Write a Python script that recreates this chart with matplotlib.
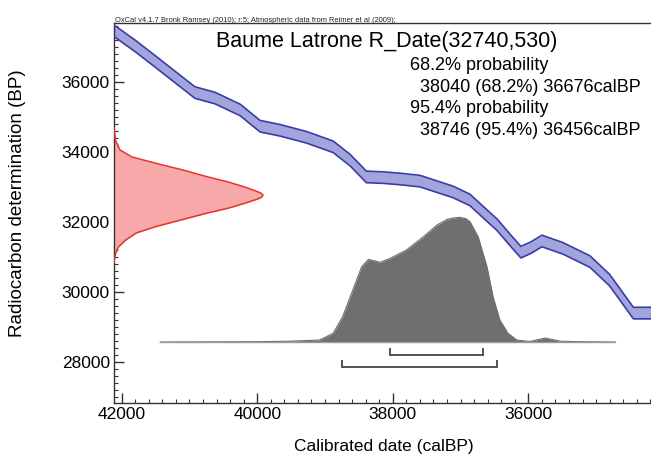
import numpy as np
import matplotlib
matplotlib.use("Agg")
import matplotlib.pyplot as plt
from matplotlib.ticker import MultipleLocator

plt.rcParams['font.family'] = ['Liberation Sans', 'DejaVu Sans']

# ---------------- data ----------------
# Calibration curve (IntCal09): cal BP vs 14C BP (centre of band)
curve_cal = [42110, 41800, 41500, 41210, 40920, 40620, 40250, 39960, 39660, 39270,
             38880, 38630, 38390, 38140, 37890, 37600, 37110, 36860, 36670, 36460,
             36270, 36110, 35960, 35800, 35490, 35090, 34800, 34450, 34160]
curve_bp = [37450, 37020, 36570, 36130, 35690, 35530, 35190, 34730, 34610, 34410,
            34140, 33760, 33280, 33260, 33220, 33160, 32850, 32620, 32280, 31910,
            31480, 31130, 31260, 31450, 31240, 30860, 30330, 29390, 29390]
curve_err = 165  # half-width of band (BP)

meas_bp = [34680, 34330, 34050, 33850, 33670, 33480, 33290, 33130, 33000, 32880,
           32820, 32760, 32700, 32650, 32530, 32390, 32240, 32050, 31860, 31680,
           31480, 31280, 31110, 30850]
meas_rel = [0.0, 0.01, 0.04, 0.12, 0.28, 0.46, 0.62, 0.77, 0.87, 0.95,
            0.985, 1.0, 0.99, 0.965, 0.88, 0.77, 0.62, 0.45, 0.28, 0.15,
            0.08, 0.03, 0.012, 0.0]

# Calibrated posterior distribution
post_cal = [41430, 40000, 39520, 39080, 38880, 38740, 38590, 38460, 38360, 38260,
            38190, 38040, 37800, 37550, 37350, 37200, 37100, 37010, 36920, 36860,
            36740, 36610, 36520, 36420, 36300, 36170, 35980, 35750, 35530, 35240,
            34720]
post_rel = [0.0, 0.0024, 0.0064, 0.016, 0.07, 0.203, 0.417, 0.604, 0.663, 0.65,
            0.639, 0.671, 0.738, 0.844, 0.938, 0.984, 0.996, 1.0, 0.99, 0.965,
            0.844, 0.604, 0.363, 0.176, 0.07, 0.016, 0.004, 0.032, 0.006, 0.0024,
            0.0]

# Highest probability density ranges
range68 = (38040, 36676)
range95 = (38746, 36456)

title = "Baume Latrone R_Date(32740,530)"
header = "OxCal v4.1.7 Bronk Ramsey (2010); r:5; Atmospheric data from Reimer et al (2009);"
info_lines = ["68.2% probability", "38040 (68.2%) 36676calBP",
              "95.4% probability", "38746 (95.4%) 36456calBP"]

# ---------------- layout ----------------
W, H = 651, 459
fig = plt.figure(figsize=(W / 100, H / 100), dpi=100)
ax = fig.add_axes([114 / W, 1 - 403 / H, (653 - 114) / W, (403 - 23) / H])
ax.set_xlim(42114, 34160)
ax.set_ylim(26820, 37677)

# calibration band
cc = np.array(curve_cal)
cb = np.array(curve_bp)
ax.fill_between(cc, cb - curve_err, cb + curve_err, color='#a2a4dc', lw=0, zorder=2)
ax.plot(cc, cb - curve_err, color='#3b3caa', lw=1.2, zorder=3, solid_joinstyle='round')
ax.plot(cc, cb + curve_err, color='#3b3caa', lw=1.2, zorder=3, solid_joinstyle='round')

# measurement distribution on the y-axis
x0 = 42114
meas_height = 2200  # cal-years at peak
mx = x0 - np.array(meas_rel) * meas_height
ax.fill_betweenx(meas_bp, x0, mx, color='#f6a9a8', lw=0, zorder=2)
ax.plot(mx, meas_bp, color='#e8332a', lw=1.1, zorder=3)

# posterior distribution
base_bp = 28563
post_height = 3560
py = base_bp + np.array(post_rel) * post_height
ax.fill_between(post_cal, base_bp, py, color='#6e7070', lw=0, zorder=4)
ax.plot(post_cal, py, color='#6e7070', lw=0.8, zorder=4)
ax.plot([post_cal[0], post_cal[-1]], [base_bp, base_bp], color='#9a9c9c', lw=1.0, zorder=4)

# HPD brackets
def bracket(rng, y, h):
    ax.plot([rng[0], rng[0], rng[1], rng[1]], [y + h, y, y, y + h],
            color='#505252', lw=1.4, zorder=5, solid_joinstyle='miter')

bracket(range68, 28190, 170)
bracket(range95, 27857, 170)

# axes styling
for s in ['left', 'bottom', 'top']:
    ax.spines[s].set_color('#333333')
    ax.spines[s].set_linewidth(1.0)
ax.spines['right'].set_visible(False)

ax.xaxis.set_major_locator(MultipleLocator(2000))
ax.xaxis.set_minor_locator(MultipleLocator(200))
ax.yaxis.set_major_locator(MultipleLocator(2000))
ax.yaxis.set_minor_locator(MultipleLocator(200))
ax.tick_params(which='major', direction='in', length=7, width=1.0, color='#333333',
               labelsize=12.5, pad=3)
ax.tick_params(which='minor', direction='in', length=3.2, width=0.8, color='#333333')
ax.tick_params(axis='x', top=False, which='both')
ax.tick_params(axis='y', right=False, which='both')

ax.set_xlabel("Calibrated date (calBP)", fontsize=12.5, va='center')
ax.xaxis.set_label_coords(0.5, -(446 - 403) / 380)
ax.set_ylabel("Radiocarbon determination (BP)", fontsize=13.5, va='center')
ax.yaxis.set_label_coords(-(114 - 18) / 539, 1 - (203 - 23) / 380)

# texts
fig.text(115 / W, 1 - 21.5 / H, header, fontsize=5.4, ha='left', va='baseline', color='#222222')
fig.text(386.5 / W, 1 - 47 / H, title, fontsize=15.5, ha='center', va='baseline')
fig.text(410 / W, 1 - 70 / H, info_lines[0], fontsize=13, ha='left', va='baseline')
fig.text(420 / W, 1 - 91.7 / H, info_lines[1], fontsize=13, ha='left', va='baseline')
fig.text(410 / W, 1 - 113.3 / H, info_lines[2], fontsize=13, ha='left', va='baseline')
fig.text(420 / W, 1 - 135 / H, info_lines[3], fontsize=13, ha='left', va='baseline')

fig.savefig("out.png", dpi=100)
